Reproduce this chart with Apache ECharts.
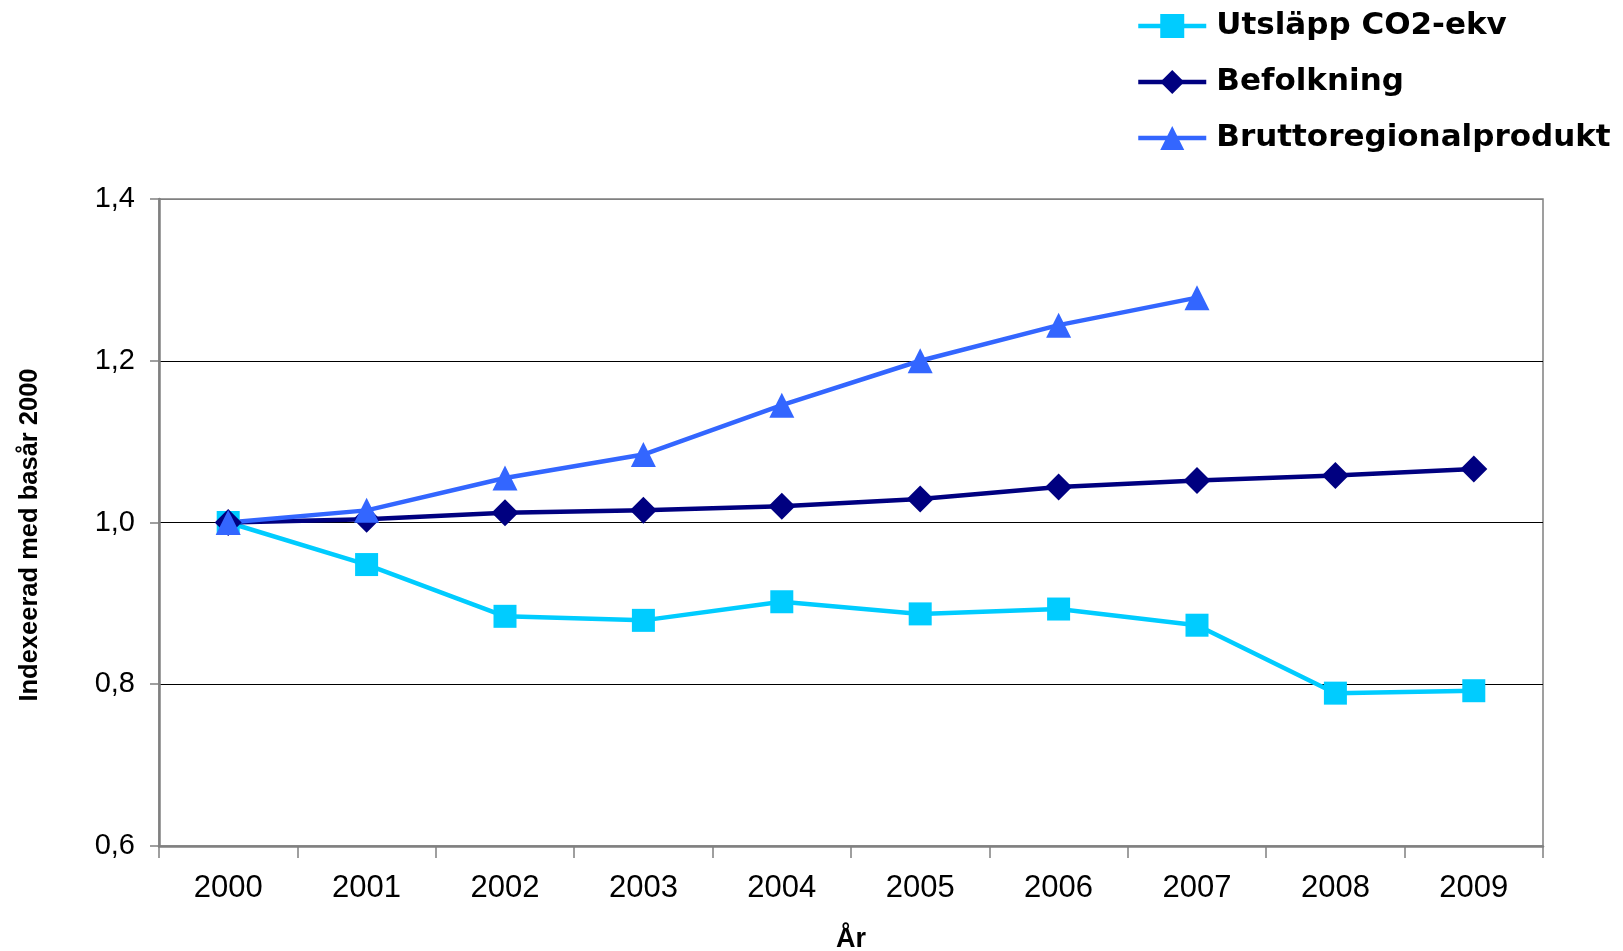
<!DOCTYPE html>
<html>
<head>
<meta charset="utf-8">
<script src="https://cdn.jsdelivr.net/npm/echarts@6/dist/echarts.min.js"></script>
<style>
  html, body { margin: 0; padding: 0; background: #fff; }
  #chart { width: 1623px; height: 951px; }
</style>
</head>
<body>
<div id="chart"></div>
<script>
// år på x-axeln
var years = ['2000', '2001', '2002', '2003', '2004', '2005', '2006', '2007', '2008', '2009'];
// indexserier, basår 2000 = 1,0
var utslapp = [1.000, 0.948, 0.884, 0.879, 0.902, 0.887, 0.893, 0.873, 0.789, 0.792];
var befolkning = [1.000, 1.004, 1.012, 1.015, 1.020, 1.029, 1.044, 1.052, 1.058, 1.066];
var brp = [1.000, 1.015, 1.055, 1.084, 1.145, 1.200, 1.244, 1.278, null, null];
// y-axelns skala
var yMin = 0.6, yMax = 1.4, yStep = 0.2;

var chart = echarts.init(document.getElementById('chart'));

function linje(name, data, color, symbol, size) {
  return {
    name: name,
    type: 'line',
    data: data,
    symbol: symbol,
    symbolSize: size,
    showAllSymbol: true,
    connectNulls: false,
    lineStyle: { color: color, width: 4.5 },
    itemStyle: { color: color },
    emphasis: { disabled: true },
    animation: false
  };
}

chart.setOption({
  backgroundColor: '#fff',
  animation: false,
  grid: {
    left: 159, right: 80, top: 199, bottom: 105,
    outerBoundsMode: 'none',
    containLabel: false,
    show: true, borderColor: '#808080', borderWidth: 1.5
  },
  legend: {
    orient: 'vertical',
    left: 1131, top: 4,
    itemWidth: 68, itemHeight: 30,
    itemGap: 22,
    lineStyle: { width: 4.5 },
    textStyle: {
      fontFamily: 'DejaVu Sans', fontWeight: 'bold', fontSize: 31,
      color: '#000', lineHeight: 34,
      padding: [0, 0, 0, 5]
    },
    data: ['Utsläpp CO2-ekv', 'Befolkning', 'Bruttoregionalprodukt']
  },
  xAxis: {
    type: 'category',
    data: years,
    boundaryGap: true,
    name: 'År',
    nameLocation: 'middle',
    nameGap: 80,
    nameTextStyle: {
      fontFamily: 'Liberation Sans', fontWeight: 'bold',
      fontSize: 27, color: '#000'
    },
    axisLine: { lineStyle: { color: '#808080', width: 2.5 } },
    axisTick: { show: true, interval: 0, length: 12, lineStyle: { color: '#808080', width: 1.5 } },
    axisLabel: {
      interval: 0, margin: 27,
      fontFamily: 'Liberation Sans', fontSize: 31, color: '#000'
    },
    splitLine: { show: false }
  },
  yAxis: {
    type: 'value',
    min: yMin, max: yMax, interval: yStep,
    name: 'Indexeerad med basår 2000',
    nameLocation: 'middle',
    nameGap: 116,
    nameTextStyle: {
      fontFamily: 'Liberation Sans', fontWeight: 'bold',
      fontSize: 25.5, color: '#000',
      padding: [0, 25, 0, 0]
    },
    axisLine: { show: true, lineStyle: { color: '#808080', width: 2.5 } },
    axisTick: { show: true, length: 9, lineStyle: { color: '#808080', width: 1.5 } },
    axisLabel: {
      margin: 24,
      fontFamily: 'Liberation Sans', fontSize: 29, color: '#000',
      formatter: function (v) { return v.toFixed(1).replace('.', ','); }
    },
    splitLine: {
      show: true,
      lineStyle: { color: ['#808080', '#000', '#000', '#000', '#808080'], width: 1.2 }
    }
  },
  series: [
    linje('Utsläpp CO2-ekv', utslapp, '#00CCFF', 'rect', 23),
    linje('Befolkning', befolkning, '#000080', 'diamond', [27, 27]),
    linje('Bruttoregionalprodukt', brp, '#3366FF', 'triangle', [25, 25])
  ]
});
</script>
</body>
</html>
